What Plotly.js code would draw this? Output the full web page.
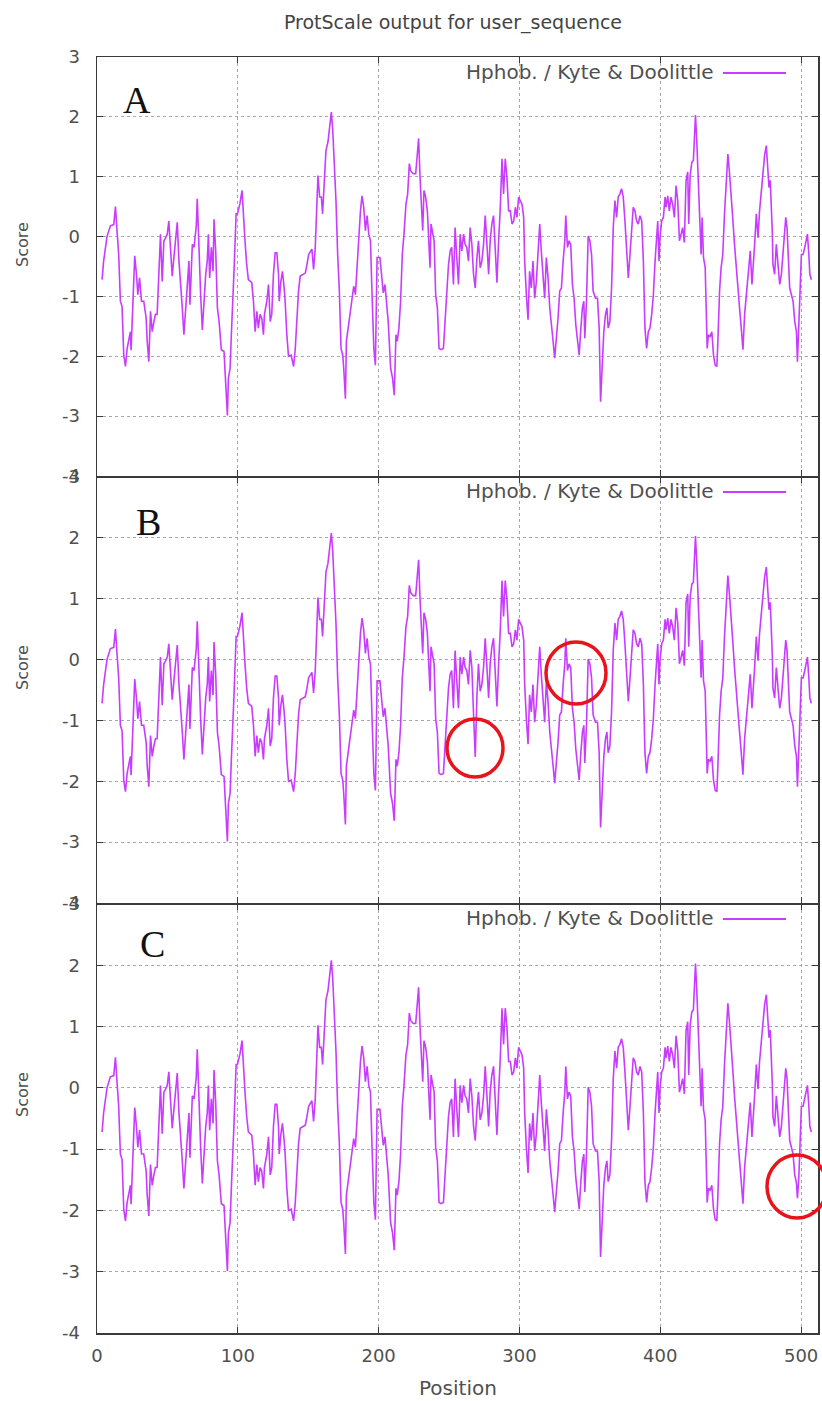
<!DOCTYPE html>
<html><head><meta charset="utf-8">
<script src="https://cdn.plot.ly/plotly-3.0.1.min.js"></script>
<style>html,body{margin:0;padding:0;background:#fff}#chart{width:822px;height:1401px}</style>
</head><body><div id="chart"></div>
<script>
// Hydrophobicity (Kyte & Doolittle) profiles
const position = [3.6,4.7,7.1,9.5,11.9,13.1,14.2,15.4,16.6,17.8,19.0,20.2,21.4,22.6,23.7,24.2,25.6,26.8,28.0,29.0,30.2,31.6,33.2,34.9,35.6,36.8,38.0,39.2,40.4,41.5,42.7,43.9,45.1,46.3,47.5,48.7,49.9,51.0,52.2,53.4,54.6,55.8,57.0,58.2,59.4,60.5,61.7,62.9,64.1,65.3,66.0,67.7,68.9,70.5,71.2,72.4,73.6,74.8,76.0,77.2,78.3,79.1,80.0,81.2,82.4,83.1,84.3,85.5,86.7,88.3,90.2,91.4,92.6,93.3,94.5,95.4,96.6,97.3,98.0,98.8,99.7,101.5,103.0,104.0,105.1,106.3,107.5,109.9,111.1,112.3,113.5,114.6,115.8,117.0,118.2,118.9,120.6,121.8,123.0,124.1,125.3,126.5,127.7,128.9,129.4,130.6,131.7,132.9,133.6,134.8,136.0,137.9,139.6,140.8,141.9,143.1,144.3,147.9,149.1,150.3,152.6,153.8,155.0,155.7,156.9,158.1,159.3,160.2,161.7,162.6,164.0,165.0,166.4,167.4,168.5,169.7,170.9,172.1,173.3,174.5,175.2,176.4,177.1,178.3,179.9,181.1,182.3,183.5,184.7,185.9,187.1,188.2,189.4,190.6,191.8,193.0,194.2,195.4,196.6,197.7,198.9,200.9,202.1,203.3,204.5,205.6,206.8,208.5,209.9,211.1,212.3,213.2,214.4,215.6,216.8,218.0,219.4,220.6,221.8,222.7,224.6,226.3,227.5,228.4,229.4,230.6,231.3,232.2,233.4,234.6,235.8,236.5,237.2,238.4,239.4,240.5,241.7,242.9,244.3,246.0,247.2,248.4,249.6,250.8,251.9,253.1,254.3,255.5,256.7,257.9,259.1,260.3,261.4,262.6,263.8,265.0,266.2,267.4,268.6,269.8,270.9,272.1,273.3,274.5,275.7,276.9,278.1,279.2,280.4,281.6,282.8,284.0,285.2,286.4,287.6,288.7,289.9,291.1,292.3,293.5,294.7,295.9,297.1,298.2,299.4,300.6,301.8,303.0,303.7,304.9,306.1,307.2,308.4,309.6,310.8,312.0,313.2,314.4,315.5,316.7,317.9,319.1,320.3,321.5,322.7,323.9,325.0,326.2,327.4,328.6,329.8,331.0,332.2,332.9,334.1,335.2,336.4,337.6,338.8,340.0,341.2,342.4,343.6,344.7,345.7,346.4,347.6,348.8,350.0,351.2,352.3,354.0,355.4,356.6,357.6,358.8,359.9,361.1,362.1,363.0,364.2,365.4,366.6,367.8,369.0,370.1,371.3,372.5,373.7,374.9,376.1,377.3,378.5,379.6,380.8,382.0,383.2,384.4,385.6,386.8,388.0,389.1,390.3,391.5,392.7,393.9,395.1,396.3,397.5,398.2,399.1,399.8,401.0,402.2,403.4,404.1,405.3,406.4,407.6,408.8,410.0,411.2,412.4,413.6,414.8,415.9,417.1,418.3,419.5,420.2,421.2,422.4,423.5,424.3,425.0,425.9,426.6,427.8,429.0,429.7,430.7,431.9,432.6,433.3,434.2,435.4,436.6,437.8,439.0,440.2,440.9,442.1,443.2,444.4,445.6,446.8,448.0,449.2,450.4,451.6,452.7,453.9,455.1,456.3,457.5,458.7,459.9,461.1,462.2,463.0,463.9,465.1,465.8,467.0,468.2,469.4,470.5,471.7,472.9,474.1,475.3,476.5,477.2,478.1,478.9,479.6,480.0,481.2,482.4,483.6,484.8,486.0,487.2,488.4,489.1,490.0,490.7,491.9,493.1,494.3,495.5,496.7,497.4,498.3,499.0,500.2,501.4,502.6,503.8,504.5,505.5,506.2,507.3];
// panel A
const scoreA = [-0.72,-0.41,0.0,0.18,0.2,0.5,0.1,-0.3,-1.08,-1.17,-1.98,-2.17,-1.87,-1.7,-1.59,-1.9,-0.97,-0.32,-0.63,-0.97,-0.69,-1.08,-1.08,-1.36,-1.73,-2.09,-1.25,-1.59,-1.42,-1.3,-1.3,-0.47,0.04,-0.75,-0.07,-0.02,0.04,0.26,-0.13,-0.66,-0.35,-0.02,0.24,-0.41,-0.77,-1.17,-1.64,-1.25,-0.86,-0.41,-1.14,-0.13,-0.18,0.18,0.63,-0.3,-0.97,-1.56,-1.08,-0.63,-0.41,0.04,-0.69,-0.18,-0.58,0.29,-0.24,-1.19,-1.42,-1.89,-1.92,-2.54,-2.99,-2.37,-2.2,-1.64,-1.08,-0.58,-0.13,0.38,0.38,0.55,0.77,0.32,-0.07,-0.47,-0.72,-0.77,-1.08,-1.59,-1.25,-1.53,-1.3,-1.36,-1.64,-1.3,-1.08,-0.8,-1.42,-1.3,-0.63,-0.27,-0.27,-0.63,-1.08,-0.75,-0.58,-0.86,-1.08,-1.64,-2.0,-1.98,-2.17,-1.87,-1.3,-0.91,-0.66,-0.61,-0.47,-0.3,-0.21,-0.55,-0.18,0.21,1.02,0.66,0.66,0.38,1.1,1.44,1.58,1.83,2.08,1.78,1.27,0.6,-0.3,-0.91,-1.87,-1.98,-2.2,-2.71,-1.75,-1.53,-1.19,-0.97,-0.83,-0.97,-0.52,0.04,0.43,0.68,0.49,0.1,0.35,0.04,-0.07,-1.03,-1.87,-2.15,-0.35,-0.35,-0.63,-0.94,-0.8,-1.08,-1.42,-2.2,-2.37,-2.65,-1.64,-1.75,-1.53,-1.08,-0.3,0.04,0.54,0.71,1.22,1.1,1.05,1.05,1.33,1.64,0.99,0.38,0.1,0.77,0.66,0.43,-0.07,-0.52,0.21,0.04,-0.07,-0.97,-1.19,-1.87,-1.89,-1.87,-1.42,-0.97,-0.47,-0.24,-0.18,-0.8,0.15,-0.35,-0.8,0.04,-0.24,0.04,-0.13,-0.18,-0.41,0.15,-0.13,-0.63,-0.86,-0.35,-0.07,-0.52,-0.41,-0.13,0.35,-0.13,-0.63,-0.07,0.21,0.35,-0.18,-0.77,-0.07,0.49,1.3,0.71,1.3,0.99,0.43,0.43,0.21,0.26,0.49,0.32,0.66,0.6,0.54,0.32,-0.41,-0.97,-1.39,-0.58,-0.86,-0.41,-1.03,-0.75,-0.35,0.21,-0.24,-0.63,-1.03,-0.35,-0.69,-1.19,-1.53,-1.75,-2.03,-1.75,-1.36,-0.91,-0.86,-0.41,-0.07,0.35,-0.18,-0.07,-0.13,-0.8,-1.03,-1.47,-1.7,-1.98,-1.53,-1.19,-1.08,-1.7,-1.08,0.01,-0.07,-0.3,-0.91,-1.03,-1.03,-1.53,-2.76,-2.2,-1.59,-1.3,-1.19,-1.53,-1.42,-0.86,0.15,0.6,0.32,0.66,0.71,0.8,0.66,0.26,-0.3,-0.69,-0.3,0.04,0.49,0.43,0.26,0.21,0.35,0.26,-0.41,-1.53,-1.87,-1.59,-1.53,-1.3,-0.97,-0.41,0.15,0.26,-0.41,-0.02,0.26,0.32,0.66,0.49,0.68,0.43,0.66,0.54,0.32,0.85,0.6,-0.07,0.04,0.15,-0.1,0.94,1.08,0.21,1.02,1.24,1.27,1.64,2.03,1.61,1.22,0.32,-0.3,0.32,-0.35,-0.52,-1.42,-1.87,-1.64,-1.67,-1.59,-1.98,-2.15,-2.17,-1.75,-0.91,-0.52,-0.3,0.38,0.82,1.38,1.05,0.71,0.26,-0.13,-0.52,-0.97,-1.19,-1.53,-1.89,-1.3,-0.97,-0.63,-0.35,-0.24,-0.8,-0.58,-0.13,0.38,-0.02,0.43,0.77,1.05,1.36,1.52,1.16,0.82,0.94,0.49,0.04,-0.47,-0.63,-0.13,-0.52,-0.8,-0.63,-0.24,0.15,0.32,0.15,-0.3,-0.86,-0.97,-1.08,-1.42,-1.59,-2.09,-1.64,-1.08,-0.3,-0.3,-0.18,-0.07,0.04,-0.3,-0.63,-0.72];
// panel B (dip near position 269 is deeper)
const scoreB = [-0.72,-0.41,0.0,0.18,0.2,0.5,0.1,-0.3,-1.08,-1.17,-1.98,-2.17,-1.87,-1.7,-1.59,-1.9,-0.97,-0.32,-0.63,-0.97,-0.69,-1.08,-1.08,-1.36,-1.73,-2.09,-1.25,-1.59,-1.42,-1.3,-1.3,-0.47,0.04,-0.75,-0.07,-0.02,0.04,0.26,-0.13,-0.66,-0.35,-0.02,0.24,-0.41,-0.77,-1.17,-1.64,-1.25,-0.86,-0.41,-1.14,-0.13,-0.18,0.18,0.63,-0.3,-0.97,-1.56,-1.08,-0.63,-0.41,0.04,-0.69,-0.18,-0.58,0.29,-0.24,-1.19,-1.42,-1.89,-1.92,-2.54,-2.99,-2.37,-2.2,-1.64,-1.08,-0.58,-0.13,0.38,0.38,0.55,0.77,0.32,-0.07,-0.47,-0.72,-0.77,-1.08,-1.59,-1.25,-1.53,-1.3,-1.36,-1.64,-1.3,-1.08,-0.8,-1.42,-1.3,-0.63,-0.27,-0.27,-0.63,-1.08,-0.75,-0.58,-0.86,-1.08,-1.64,-2.0,-1.98,-2.17,-1.87,-1.3,-0.91,-0.66,-0.61,-0.47,-0.3,-0.21,-0.55,-0.18,0.21,1.02,0.66,0.66,0.38,1.1,1.44,1.58,1.83,2.08,1.78,1.27,0.6,-0.3,-0.91,-1.87,-1.98,-2.2,-2.71,-1.75,-1.53,-1.19,-0.97,-0.83,-0.97,-0.52,0.04,0.43,0.68,0.49,0.1,0.35,0.04,-0.07,-1.03,-1.87,-2.15,-0.35,-0.35,-0.63,-0.94,-0.8,-1.08,-1.42,-2.2,-2.37,-2.65,-1.64,-1.75,-1.53,-1.08,-0.3,0.04,0.54,0.71,1.22,1.1,1.05,1.05,1.33,1.64,0.99,0.38,0.1,0.77,0.66,0.43,-0.07,-0.52,0.21,0.04,-0.07,-0.97,-1.19,-1.87,-1.89,-1.87,-1.42,-0.97,-0.47,-0.24,-0.18,-0.8,0.15,-0.35,-0.8,0.04,-0.24,0.04,-0.13,-0.18,-0.41,0.15,-0.13,-0.9,-1.6,-0.6,-0.07,-0.52,-0.41,-0.13,0.35,-0.13,-0.63,-0.07,0.21,0.35,-0.18,-0.77,-0.07,0.49,1.3,0.71,1.3,0.99,0.43,0.43,0.21,0.26,0.49,0.32,0.66,0.6,0.54,0.32,-0.41,-0.97,-1.39,-0.58,-0.86,-0.41,-1.03,-0.75,-0.35,0.21,-0.24,-0.63,-1.03,-0.35,-0.69,-1.19,-1.53,-1.75,-2.03,-1.75,-1.36,-0.91,-0.86,-0.41,-0.07,0.35,-0.18,-0.07,-0.13,-0.8,-1.03,-1.47,-1.7,-1.98,-1.53,-1.19,-1.08,-1.7,-1.08,0.01,-0.07,-0.3,-0.91,-1.03,-1.03,-1.53,-2.76,-2.2,-1.59,-1.3,-1.19,-1.53,-1.42,-0.86,0.15,0.6,0.32,0.66,0.71,0.8,0.66,0.26,-0.3,-0.69,-0.3,0.04,0.49,0.43,0.26,0.21,0.35,0.26,-0.41,-1.53,-1.87,-1.59,-1.53,-1.3,-0.97,-0.41,0.15,0.26,-0.41,-0.02,0.26,0.32,0.66,0.49,0.68,0.43,0.66,0.54,0.32,0.85,0.6,-0.07,0.04,0.15,-0.1,0.94,1.08,0.21,1.02,1.24,1.27,1.64,2.03,1.61,1.22,0.32,-0.3,0.32,-0.35,-0.52,-1.42,-1.87,-1.64,-1.67,-1.59,-1.98,-2.15,-2.17,-1.75,-0.91,-0.52,-0.3,0.38,0.82,1.38,1.05,0.71,0.26,-0.13,-0.52,-0.97,-1.19,-1.53,-1.89,-1.3,-0.97,-0.63,-0.35,-0.24,-0.8,-0.58,-0.13,0.38,-0.02,0.43,0.77,1.05,1.36,1.52,1.16,0.82,0.94,0.49,0.04,-0.47,-0.63,-0.13,-0.52,-0.8,-0.63,-0.24,0.15,0.32,0.15,-0.3,-0.86,-0.97,-1.08,-1.42,-1.59,-2.09,-1.64,-1.08,-0.3,-0.3,-0.18,-0.07,0.04,-0.3,-0.63,-0.72];
// panel C (dip near position 497 is shallower)
const scoreC = [-0.72,-0.41,0.0,0.18,0.2,0.5,0.1,-0.3,-1.08,-1.17,-1.98,-2.17,-1.87,-1.7,-1.59,-1.9,-0.97,-0.32,-0.63,-0.97,-0.69,-1.08,-1.08,-1.36,-1.73,-2.09,-1.25,-1.59,-1.42,-1.3,-1.3,-0.47,0.04,-0.75,-0.07,-0.02,0.04,0.26,-0.13,-0.66,-0.35,-0.02,0.24,-0.41,-0.77,-1.17,-1.64,-1.25,-0.86,-0.41,-1.14,-0.13,-0.18,0.18,0.63,-0.3,-0.97,-1.56,-1.08,-0.63,-0.41,0.04,-0.69,-0.18,-0.58,0.29,-0.24,-1.19,-1.42,-1.89,-1.92,-2.54,-2.99,-2.37,-2.2,-1.64,-1.08,-0.58,-0.13,0.38,0.38,0.55,0.77,0.32,-0.07,-0.47,-0.72,-0.77,-1.08,-1.59,-1.25,-1.53,-1.3,-1.36,-1.64,-1.3,-1.08,-0.8,-1.42,-1.3,-0.63,-0.27,-0.27,-0.63,-1.08,-0.75,-0.58,-0.86,-1.08,-1.64,-2.0,-1.98,-2.17,-1.87,-1.3,-0.91,-0.66,-0.61,-0.47,-0.3,-0.21,-0.55,-0.18,0.21,1.02,0.66,0.66,0.38,1.1,1.44,1.58,1.83,2.08,1.78,1.27,0.6,-0.3,-0.91,-1.87,-1.98,-2.2,-2.71,-1.75,-1.53,-1.19,-0.97,-0.83,-0.97,-0.52,0.04,0.43,0.68,0.49,0.1,0.35,0.04,-0.07,-1.03,-1.87,-2.15,-0.35,-0.35,-0.63,-0.94,-0.8,-1.08,-1.42,-2.2,-2.37,-2.65,-1.64,-1.75,-1.53,-1.08,-0.3,0.04,0.54,0.71,1.22,1.1,1.05,1.05,1.33,1.64,0.99,0.38,0.1,0.77,0.66,0.43,-0.07,-0.52,0.21,0.04,-0.07,-0.97,-1.19,-1.87,-1.89,-1.87,-1.42,-0.97,-0.47,-0.24,-0.18,-0.8,0.15,-0.35,-0.8,0.04,-0.24,0.04,-0.13,-0.18,-0.41,0.15,-0.13,-0.63,-0.86,-0.35,-0.07,-0.52,-0.41,-0.13,0.35,-0.13,-0.63,-0.07,0.21,0.35,-0.18,-0.77,-0.07,0.49,1.3,0.71,1.3,0.99,0.43,0.43,0.21,0.26,0.49,0.32,0.66,0.6,0.54,0.32,-0.41,-0.97,-1.39,-0.58,-0.86,-0.41,-1.03,-0.75,-0.35,0.21,-0.24,-0.63,-1.03,-0.35,-0.69,-1.19,-1.53,-1.75,-2.03,-1.75,-1.36,-0.91,-0.86,-0.41,-0.07,0.35,-0.18,-0.07,-0.13,-0.8,-1.03,-1.47,-1.7,-1.98,-1.53,-1.19,-1.08,-1.7,-1.08,0.01,-0.07,-0.3,-0.91,-1.03,-1.03,-1.53,-2.76,-2.2,-1.59,-1.3,-1.19,-1.53,-1.42,-0.86,0.15,0.6,0.32,0.66,0.71,0.8,0.66,0.26,-0.3,-0.69,-0.3,0.04,0.49,0.43,0.26,0.21,0.35,0.26,-0.41,-1.53,-1.87,-1.59,-1.53,-1.3,-0.97,-0.41,0.15,0.26,-0.41,-0.02,0.26,0.32,0.66,0.49,0.68,0.43,0.66,0.54,0.32,0.85,0.6,-0.07,0.04,0.15,-0.1,0.94,1.08,0.21,1.02,1.24,1.27,1.64,2.03,1.61,1.22,0.32,-0.3,0.32,-0.35,-0.52,-1.42,-1.87,-1.64,-1.67,-1.59,-1.98,-2.15,-2.17,-1.75,-0.91,-0.52,-0.3,0.38,0.82,1.38,1.05,0.71,0.26,-0.13,-0.52,-0.97,-1.19,-1.53,-1.89,-1.3,-0.97,-0.63,-0.35,-0.24,-0.8,-0.58,-0.13,0.38,-0.02,0.43,0.77,1.05,1.36,1.52,1.16,0.82,0.94,0.49,0.04,-0.47,-0.63,-0.13,-0.52,-0.8,-0.63,-0.24,0.15,0.32,0.15,-0.3,-0.86,-0.97,-1.08,-1.42,-1.55,-1.8,-1.5,-1.08,-0.3,-0.3,-0.18,-0.07,0.04,-0.3,-0.63,-0.72];
const panelScores = [scoreA, scoreB, scoreC];
const panelLabels = ['A', 'B', 'C'];
const legendText = 'Hphob. / Kyte & Doolittle';
const xTickVals = [0, 100, 200, 300, 400, 500];
const yTickVals = [-4, -3, -2, -1, 0, 1, 2, 3];

// ---- geometry helpers (pixel -> paper) ----
const W = 822, H = 1401, L = 97, R = 818, T = 57, B = 1333;
const px = v => (v - L) / (R - L);
const py = v => (B - v) / (B - T);

const panels = [
  {top: 57,  bottom: 476, letter: [137, 100], legendY: 72,  scoreY: 245},
  {top: 477, bottom: 903, letter: [148, 522], legendY: 491, scoreY: 668},
  {top: 904, bottom: 1333, letter: [152, 944], legendY: 918, scoreY: 1095}
];

const lineColor = '#c83cff';
const frameColor = '#3a3a3a';
const textColor = '#505050';
const font = 'DejaVu Sans, Verdana, sans-serif';

const traces = [];
const layout = {
  width: W, height: H,
  margin: {l: L, r: W - R, t: T, b: H - B},
  paper_bgcolor: '#fff', plot_bgcolor: '#fff',
  showlegend: false,
  title: {text: 'ProtScale output for user_sequence', font: {family: font, size: 19, color: '#444'},
          x: 453 / W, xanchor: 'center', xref: 'container', y: 1 - 22 / H, yanchor: 'middle', yref: 'container'},
  annotations: [], shapes: []
};

panels.forEach((p, i) => {
  const n = i === 0 ? '' : String(i + 1);
  traces.push({x: position, y: panelScores[i], mode: 'lines', xaxis: 'x' + n, yaxis: 'y' + n,
               line: {color: lineColor, width: 1.6}, hoverinfo: 'skip'});
  const common = {showgrid: true, gridcolor: '#a8a8a8', griddash: 'dot', gridwidth: 1,
                  showline: true, linecolor: frameColor, linewidth: 1.5, mirror: 'ticks',
                  ticks: 'inside', ticklen: 6, tickcolor: frameColor, zeroline: false,
                  tickfont: {family: font, size: 18, color: textColor}};
  layout['xaxis' + n] = Object.assign({}, common, {
    range: [0, 512], tickvals: xTickVals, ticktext: xTickVals.map(String),
    anchor: 'y' + n, showticklabels: i === 2, ticklabelstandoff: 6,
    domain: [0, 1]
  });
  layout['yaxis' + n] = Object.assign({}, common, {
    range: [-4, 3], tickvals: yTickVals, ticktext: yTickVals.map(String),
    anchor: 'x' + n, domain: [py(p.bottom), py(p.top)], ticklabelstandoff: 12
  });
  layout.annotations.push({text: panelLabels[i], xref: 'paper', yref: 'paper',
    x: px(p.letter[0]), y: py(p.letter[1]), xanchor: 'center', yanchor: 'middle', showarrow: false,
    font: {family: 'Liberation Serif, Times New Roman, serif', size: 38, color: '#111'}});
  layout.annotations.push({text: legendText, xref: 'paper', yref: 'paper',
    x: px(716), y: py(p.legendY), xanchor: 'right', yanchor: 'middle', showarrow: false,
    font: {family: font, size: 20, color: textColor}});
  layout.annotations.push({text: 'Score', xref: 'paper', yref: 'paper', textangle: -90,
    x: px(22), y: py(p.scoreY), xanchor: 'center', yanchor: 'middle', showarrow: false,
    font: {family: font, size: 16, color: textColor}});
  layout.shapes.push({type: 'line', xref: 'paper', yref: 'paper',
    x0: px(723), x1: px(786), y0: py(p.legendY + 1), y1: py(p.legendY + 1),
    line: {color: lineColor, width: 1.8}});
});

layout.annotations.push({text: 'Position', xref: 'paper', yref: 'paper',
  x: px(458), y: py(1388), xanchor: 'center', yanchor: 'middle', showarrow: false,
  font: {family: font, size: 20, color: textColor}});

// red highlight circles (B: two, C: one)
const circles = [[447, 719, 503, 777], [546, 642, 606, 704], [767, 1155, 827, 1218]];
circles.forEach(c => layout.shapes.push({type: 'circle', xref: 'paper', yref: 'paper',
  x0: px(c[0]), x1: px(c[2]), y0: py(c[3]), y1: py(c[1]),
  line: {color: '#e8141c', width: 3.5}}));

Plotly.newPlot('chart', traces, layout, {staticPlot: true, displayModeBar: false});
</script>
</body></html>
